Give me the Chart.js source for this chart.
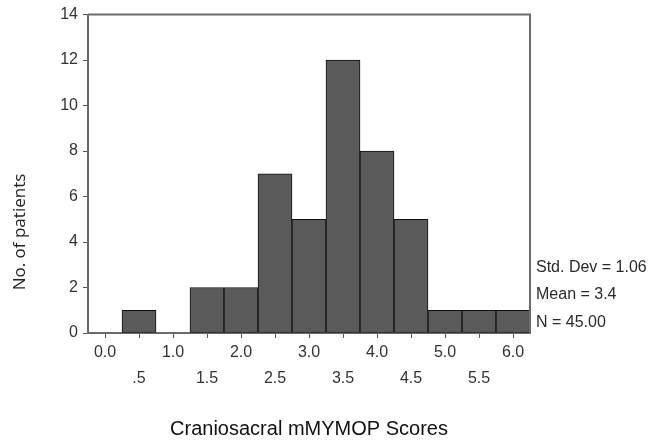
<!DOCTYPE html>
<html>
<head>
<meta charset="utf-8">
<script src="https://cdn.jsdelivr.net/npm/chart.js@4/dist/chart.umd.min.js"></script>
<style>
  html, body { margin: 0; padding: 0; background: #fff; }
  #wrap { width: 652px; height: 441px; position: relative; }
</style>
</head>
<body>
<div id="wrap"><canvas id="c" width="652" height="441"></canvas></div>
<script>
const binLabels = ['0.0', '.5', '1.0', '1.5', '2.0', '2.5', '3.0', '3.5', '4.0', '4.5', '5.0', '5.5', '6.0'];
const counts = [0, 1, 0, 2, 2, 7, 5, 12, 8, 5, 1, 1, 1];
const yMin = 0, yMax = 14, yStep = 2;
const statsLines = ['Std. Dev = 1.06', 'Mean = 3.4', 'N = 45.00'];
const xTitle = 'Craniosacral mMYMOP Scores';
const yTitle = 'No. of patients';

const framePlugin = {
  id: 'frame',
  afterDraw(chart) {
    const { ctx, chartArea: a } = chart;
    ctx.save();
    ctx.strokeStyle = '#6a6a6a';
    ctx.lineWidth = 2;
    ctx.beginPath();
    ctx.moveTo(a.left, a.top);
    ctx.lineTo(a.right, a.top);
    ctx.lineTo(a.right, a.bottom);
    ctx.stroke();
    // stats text
    ctx.fillStyle = '#2a2a2a';
    ctx.font = '16px "Liberation Sans", Arial, sans-serif';
    ctx.textAlign = 'left';
    ctx.textBaseline = 'middle';
    const ys = [268, 295, 323];
    statsLines.forEach((t, i) => ctx.fillText(t, a.right + 6, ys[i]));
    // y title
    ctx.font = '17px "Open Sans", sans-serif';
    ctx.fillStyle = '#222';
    ctx.translate(20, 232);
    ctx.rotate(-Math.PI / 2);
    ctx.textAlign = 'center';
    ctx.fillText(yTitle, 0, 0);
    ctx.restore();
  }
};

new Chart(document.getElementById('c'), {
  type: 'bar',
  data: {
    labels: binLabels,
    datasets: [{
      data: counts,
      backgroundColor: '#5a5a5a',
      borderColor: '#111',
      borderWidth: 1,
      borderSkipped: false,
      barPercentage: 1,
      categoryPercentage: 1
    }]
  },
  options: {
    responsive: false,
    animation: false,
    devicePixelRatio: 1,
    layout: { padding: { top: 10, right: 122, left: 0, bottom: 0 } },
    plugins: { legend: { display: false }, tooltip: { enabled: false } },
    scales: {
      x: {
        offset: true,
        grid: { display: true, drawOnChartArea: false, drawTicks: true, tickLength: 5, color: '#555', offset: false },
        border: { display: true, color: '#6a6a6a', width: 2 },
        ticks: {
          color: '#333',
          font: { family: '"Liberation Sans", Arial, sans-serif', size: 16, lineHeight: 1.625 },
          padding: 2,
          maxRotation: 0,
          autoSkip: false,
          callback: (v, i) => (i % 2 === 0 ? [binLabels[i]] : ['', binLabels[i]])
        },
        title: {
          display: true,
          text: xTitle,
          color: '#111',
          font: { family: '"Liberation Sans", Arial, sans-serif', size: 20, lineHeight: 1.2 },
          padding: { top: 0, bottom: 0 }
        },
        afterFit: s => { s.height = 108; }
      },
      y: {
        min: yMin,
        max: yMax,
        ticks: {
          stepSize: yStep,
          color: '#333',
          font: { family: '"Liberation Sans", Arial, sans-serif', size: 16 },
          padding: 5
        },
        grid: { display: true, drawOnChartArea: false, drawTicks: true, tickLength: 5, color: '#555' },
        border: { display: true, color: '#6a6a6a', width: 2 },
        afterFit: s => { s.width = 88; }
      }
    }
  },
  plugins: [framePlugin]
});
</script>
</body>
</html>
